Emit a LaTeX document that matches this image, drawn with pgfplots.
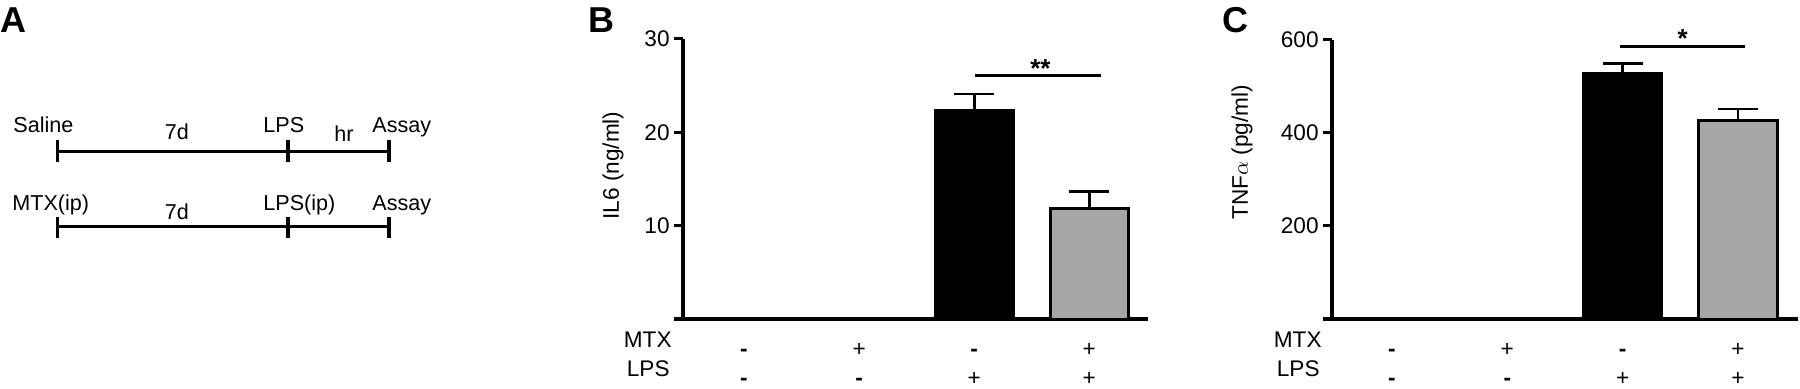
\documentclass[border=0pt]{standalone}
\usepackage{fontspec}
\setmainfont{Liberation Sans}
\usepackage{pgfplots}
\pgfplotsset{compat=1.18}
\definecolor{bargray}{RGB}{166,166,166}
\newcommand{\lblfont}{\fontsize{11.3}{13}\selectfont}
\newcommand{\afont}{\fontsize{10.8}{12}\selectfont}
\newcommand{\starfont}{\fontsize{13}{15}\selectfont\bfseries}
\newcommand{\panelfont}{\fontsize{18}{20}\selectfont\bfseries}
\newcommand{\mn}{\textbf{-}}

\pgfplotsset{
  panel/.style={
    scale only axis, anchor=south west, clip=false,
    axis x line=bottom, axis y line=left,
    axis line style={line width=1.8pt, -},
    ymin=0,
    tick align=outside,
    major tick length=4.5pt,
    ytick style={line width=1.5pt, black},
    xtick={0,1,2,3}, xticklabels={\mn,+,\mn,+},
    extra x ticks={0,1,2,3}, extra x tick labels={\mn,\mn,+,+},
    xtick style={draw=none},
    extra x tick style={xtick style={draw=none}, xticklabel style={yshift=-14.5pt}},
    xticklabel style={anchor=base, inner sep=0pt, yshift=-14.5pt},
    yticklabel style={anchor=east, inner sep=0pt, xshift=-2pt},
    tick label style={font=\lblfont},
    /pgf/number format/assume math mode=true,
  },
  barplot/.style={ybar, bar width=0.68, bar shift=0pt, line width=1.4pt,
      /pgfplots/error bars/y dir=plus, /pgfplots/error bars/y explicit,
      /pgfplots/error bars/error bar style={line width=1.4pt, black},
      /pgfplots/error bars/error mark options={rotate=90, line width=1.4pt, mark size=10pt, black}},
}

\begin{document}
\begin{tikzpicture}
\useasboundingbox (0,0) rectangle (900pt,194.5pt);

% Panel A: timeline
\begin{scope}[x=0.5pt, y=-0.5pt, shift={(0pt,194.5pt)}]
  \node[anchor=base west, inner sep=0pt, font=\panelfont] at (0,33) {A};
  \node[anchor=base west, inner sep=0pt, font=\panelfont] at (588,33) {B};
  \node[anchor=base west, inner sep=0pt, font=\panelfont] at (1222,33) {C};

  \draw[line width=1.65pt] (57.7,151.7) -- (389,151.7);
  \draw[line width=1.65pt] (57.7,140) -- (57.7,162);
  \draw[line width=1.65pt] (288,140) -- (288,162);
  \draw[line width=1.65pt] (389,140) -- (389,162);
  \draw[line width=1.65pt] (57.7,226.7) -- (389,226.7);
  \draw[line width=1.65pt] (57.7,217) -- (57.7,238);
  \draw[line width=1.65pt] (288,217) -- (288,238);
  \draw[line width=1.65pt] (389,217) -- (389,238);

  \node[anchor=base west, inner sep=0pt, font=\afont] at (13,133) {Saline};
  \node[anchor=base, inner sep=0pt, font=\afont] at (177,140) {7d};
  \node[anchor=base west, inner sep=0pt, font=\afont] at (263,133) {LPS};
  \node[anchor=base, inner sep=0pt, font=\afont] at (344,142) {hr};
  \node[anchor=base west, inner sep=0pt, font=\afont] at (372,133) {Assay};

  \node[anchor=base west, inner sep=0pt, font=\afont] at (12,211) {MTX(ip)};
  \node[anchor=base, inner sep=0pt, font=\afont] at (177,220) {7d};
  \node[anchor=base west, inner sep=0pt, font=\afont] at (263,211) {LPS(ip)};
  \node[anchor=base west, inner sep=0pt, font=\afont] at (372,211) {Assay};
\end{scope}

% Panel B
\begin{axis}[panel, at={(341.5pt,35pt)}, width=232.5pt, height=140pt,
  xmin=-0.53, xmax=3.51, ymax=30, ytick={10,20,30}]
  \addplot[barplot, fill=black, draw=black] coordinates {(2,22.3) +- (0,1.8)};
  \addplot[barplot, fill=bargray, draw=black] coordinates {(3,11.8) +- (0,1.9)};
  \draw[line width=1.8pt] ([xshift=-4.5pt]rel axis cs:0,0) -- (rel axis cs:0,0);
  \draw[line width=1.5pt] (axis cs:2.01,26.1) -- (axis cs:3.10,26.1);
  \node[anchor=base, inner sep=0pt, font=\starfont] at (axis cs:2.575,25.9) {**};
  \node[anchor=base east, inner sep=0pt, font=\lblfont] at ([xshift=-5.5pt,yshift=-14.5pt]rel axis cs:0,0) {MTX};
  \node[anchor=base east, inner sep=0pt, font=\lblfont] at ([xshift=-6.5pt,yshift=-29pt]rel axis cs:0,0) {LPS};
  \node[rotate=90, anchor=west, inner sep=0pt, font=\lblfont] at ([xshift=-35pt,yshift=49.5pt]rel axis cs:0,0) {IL6 (ng/ml)};
\end{axis}

% Panel C
\begin{axis}[panel, at={(666pt,35pt)}, width=233pt, height=139.5pt,
  xmin=-0.52, xmax=3.52, ymax=600, ytick={200,400,600}]
  \addplot[barplot, fill=black, draw=black] coordinates {(2,528.8) +- (0,21.5)};
  \addplot[barplot, fill=bargray, draw=black] coordinates {(3,426.5) +- (0,25)};
  \draw[line width=1.8pt] ([xshift=-4.5pt]rel axis cs:0,0) -- (rel axis cs:0,0);
  \draw[line width=1.5pt] (axis cs:1.98,586.8) -- (axis cs:3.06,586.8);
  \node[anchor=base, inner sep=0pt, font=\starfont] at (axis cs:2.52,583) {*};
  \node[anchor=base east, inner sep=0pt, font=\lblfont] at ([xshift=-5pt,yshift=-14.5pt]rel axis cs:0,0) {MTX};
  \node[anchor=base east, inner sep=0pt, font=\lblfont] at ([xshift=-6pt,yshift=-29pt]rel axis cs:0,0) {LPS};
  \node[rotate=90, anchor=west, inner sep=0pt, font=\lblfont] at ([xshift=-45pt,yshift=49.5pt]rel axis cs:0,0) {TNF$\alpha$ (pg/ml)};
\end{axis}
\end{tikzpicture}
\end{document}
